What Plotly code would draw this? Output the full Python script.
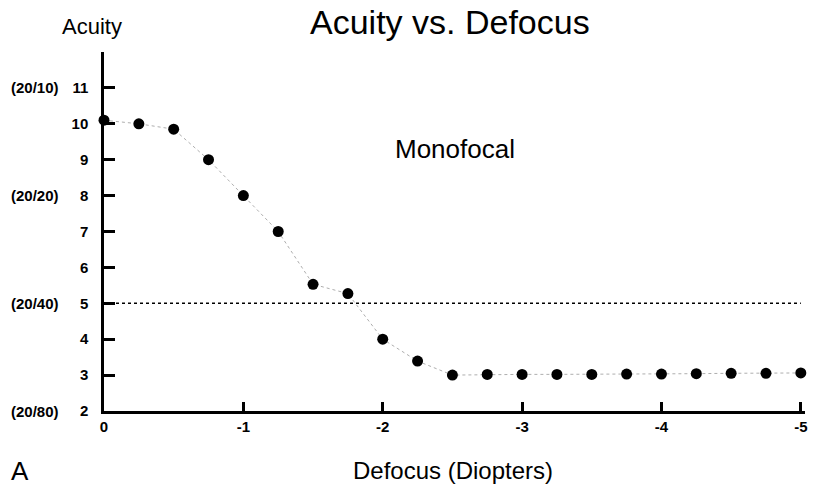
import plotly.graph_objects as go

defocus = [0, -0.25, -0.5, -0.75, -1.0, -1.25, -1.5, -1.75, -2.0, -2.25, -2.5,
           -2.75, -3.0, -3.25, -3.5, -3.75, -4.0, -4.25, -4.5, -4.75, -5.0]
acuity = [10.1, 10.0, 9.85, 9.0, 8.0, 7.0, 5.53, 5.27, 4.0, 3.39, 3.0,
          3.02, 3.02, 3.02, 3.02, 3.03, 3.03, 3.04, 3.05, 3.05, 3.06]
threshold = 5
x_ticks = [0, -1, -2, -3, -4, -5]
x_tick_labels = ["0", "-1", "-2", "-3", "-4", "-5"]
y_ticks = [2, 3, 4, 5, 6, 7, 8, 9, 10, 11]
snellen_vals = [11, 8, 5, 2]
snellen_labels = ["(20/10)", "(20/20)", "(20/40)", "(20/80)"]

FONT = "Liberation Sans, Arial, Helvetica, sans-serif"
L, R, T, B = 104, 10, 52, 78
PW, PH = 815 - L - R, 489 - T - B

fig = go.Figure()
fig.add_trace(go.Scatter(
    x=[defocus[0], defocus[-1]], y=[threshold, threshold], mode="lines",
    line=dict(color="black", width=1.6, dash="dot"), hoverinfo="skip", showlegend=False))
fig.add_trace(go.Scatter(
    x=defocus, y=acuity, mode="lines+markers",
    line=dict(color="#999999", width=0.8, dash="dot"),
    marker=dict(color="black", size=11), showlegend=False, cliponaxis=False))

fig.update_layout(
    width=815, height=489,
    margin=dict(l=L, r=R, t=T, b=B, autoexpand=False),
    paper_bgcolor="white", plot_bgcolor="white",
    font=dict(family=FONT, color="black"),
    xaxis=dict(range=[0, -5.03], showgrid=False, zeroline=False, showline=True,
               linecolor="black", linewidth=2.5, ticks="inside", ticklen=9,
               tickwidth=2.5, tickcolor="black", tickvals=x_ticks,
               ticktext=x_tick_labels, automargin=False,
               tickfont=dict(size=15, family=FONT, weight="bold")),
    yaxis=dict(range=[2, 12], showgrid=False, zeroline=False, showline=True,
               linecolor="black", linewidth=2.5, ticks="inside", ticklen=11,
               tickwidth=2.5, tickcolor="black", tickvals=y_ticks, automargin=False,
               tickfont=dict(size=15, family=FONT, weight="bold"),
               ticklabelstandoff=10),
)

for v, lab in zip(snellen_vals, snellen_labels):
    fig.add_annotation(text=lab, xref="paper", yref="y",
                       x=(35 - L) / PW, y=v, xanchor="center", yanchor="middle",
                       showarrow=False,
                       font=dict(size=15, family=FONT, weight="bold"))


def px(xp, yp):
    return (xp - L) / PW, (489 - B - yp) / PH


for text, (xp, yp), size in [
    ("Acuity vs. Defocus", (450, 22), 34),
    ("Acuity", (92, 27), 22),
    ("Defocus (Diopters)", (453, 470), 24),
    ("A", (20, 471), 26),
]:
    xx, yy = px(xp, yp)
    fig.add_annotation(text=text, xref="paper", yref="paper", x=xx, y=yy,
                       xanchor="center", yanchor="middle",
                       showarrow=False, font=dict(size=size, family=FONT))

fig.add_annotation(text="Monofocal", x=-2.52, y=9.3, xref="x", yref="y",
                   xanchor="center", yanchor="middle",
                   showarrow=False, font=dict(size=26, family=FONT))

fig.write_html("out.html", config={"displayModeBar": False},
               post_script="document.body.style.margin='0';")
